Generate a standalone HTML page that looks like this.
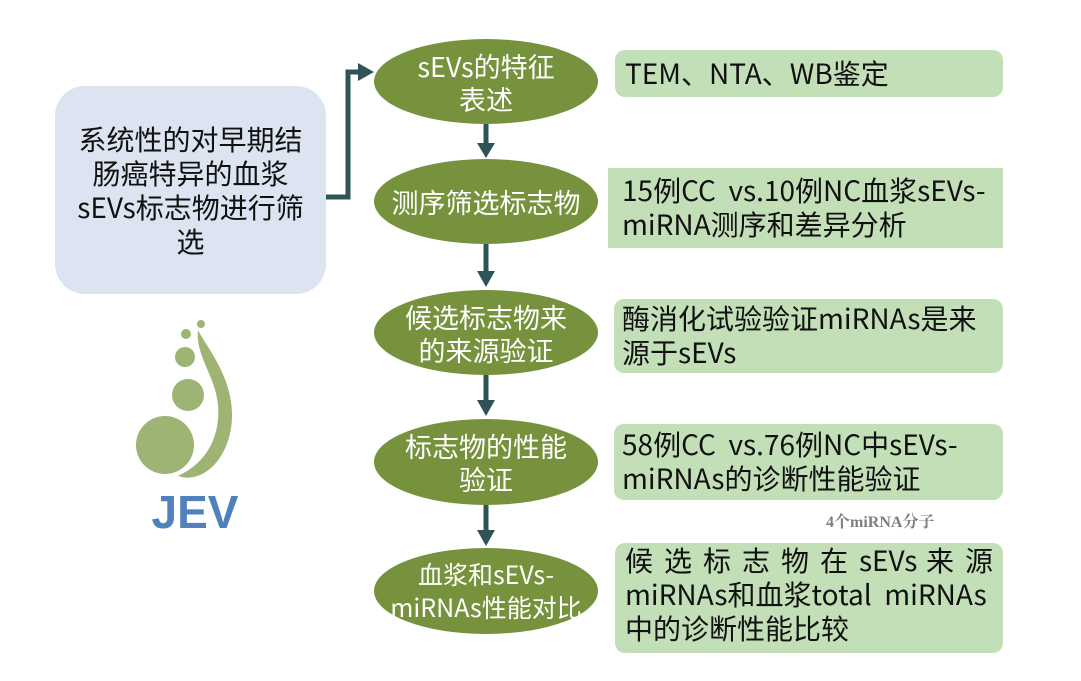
<!DOCTYPE html>
<html><head><meta charset="utf-8"><style>
body{margin:0;width:1081px;height:681px;background:#fff;position:relative;overflow:hidden;font-family:"Noto Sans CJK SC","Liberation Sans",sans-serif;}
.a{position:absolute;box-sizing:border-box;}
.box{background:#c2dfb8;border-radius:10px;color:#111;font-size:28px;line-height:34px;padding-left:10px;white-space:nowrap;}
.ell{background:#76923c;border-radius:50%;color:#fff;font-size:27px;line-height:33px;display:flex;align-items:center;justify-content:center;text-align:center;white-space:nowrap;}
</style></head><body>
<div class="a" style="left:55px;top:86px;width:271px;height:208px;background:#dbe4f0;border-radius:30px;display:flex;align-items:center;justify-content:center;text-align:center;font-size:28px;line-height:34px;color:#111;white-space:nowrap;">系统性的对早期结<br>肠癌特异的血浆<br>sEVs标志物进行筛<br>选</div>
<svg class="a" style="left:0;top:0" width="1081" height="681">
<g fill="none" stroke="#2f5457" stroke-width="5">
<polyline points="326,197 348,197 348,72 360,72"/>
<line x1="486" y1="124" x2="486" y2="146"/>
<line x1="486" y1="244" x2="486" y2="274"/>
<line x1="486" y1="375" x2="486" y2="402"/>
<line x1="486" y1="505" x2="486" y2="532"/>
</g>
<g fill="#2f5457">
<polygon points="358,63 374,72 358,81"/>
<polygon points="477,143 495,143 486,158"/>
<polygon points="477,271 495,271 486,287"/>
<polygon points="477,400 495,400 486,416"/>
<polygon points="477,530 495,530 486,546"/>
</g>
<g fill="#9db474">
<circle cx="165" cy="445" r="29"/>
<circle cx="188" cy="395" r="16"/>
<circle cx="185" cy="357" r="10"/>
<circle cx="186" cy="334" r="5"/>
<circle cx="201" cy="324" r="4"/>
<path d="M198,330 C205,345 232,375 232,415 C232,455 205,485 178,476 C212,460 220,430 218,405 C215,375 195,355 198,330 Z"/>
</g>
</svg>
<div class="a" style="left:150px;top:485px;width:90px;text-align:center;font-family:'Liberation Sans',sans-serif;font-size:46px;font-weight:bold;color:#4f81bd;">JEV</div>
<div class="a ell" style="left:374px;top:39px;width:224px;height:85px;">sEVs的特征<br>表述</div>
<div class="a ell" style="left:374px;top:159px;width:224px;height:85px;">测序筛选标志物</div>
<div class="a ell" style="left:374px;top:290px;width:224px;height:85px;">候选标志物来<br>的来源验证</div>
<div class="a ell" style="left:374px;top:419px;width:224px;height:86px;">标志物的性能<br>验证</div>
<div class="a ell" style="left:374px;top:548px;width:224px;height:86px;font-size:25px;">血浆和sEVs-<br>miRNAs性能对比</div>
<div class="a box" style="left:615px;top:50px;width:388px;height:47px;line-height:47px;">TEM、NTA、WB鉴定</div>
<div class="a box" style="left:608px;top:168px;width:395px;height:80px;border-radius:0;padding-top:5px;padding-left:14px;">15例CC&nbsp; vs.10例NC血浆sEVs-<br>miRNA测序和差异分析</div>
<div class="a box" style="left:614px;top:299px;width:389px;height:74px;padding-top:2px;padding-left:8px;">酶消化试验验证miRNAs是来<br>源于sEVs</div>
<div class="a box" style="left:614px;top:424px;width:389px;height:76px;padding-top:3px;padding-left:8px;">58例CC&nbsp; vs.76例NC中sEVs-<br>miRNAs的诊断性能验证</div>
<div class="a" style="left:826px;top:509px;font-family:'Liberation Serif','Noto Serif CJK SC',serif;font-weight:bold;font-size:16px;color:#7f7f7f;">4个miRNA分子</div>
<div class="a box" style="left:615px;top:543px;width:388px;height:110px;padding-top:0px;"><div style="width:368px;text-align:justify;text-align-last:justify;">候 选 标 志 物 在 sEVs 来 源</div>miRNAs和血浆total&nbsp; miRNAs<br>中的诊断性能比较</div>
</body></html>
